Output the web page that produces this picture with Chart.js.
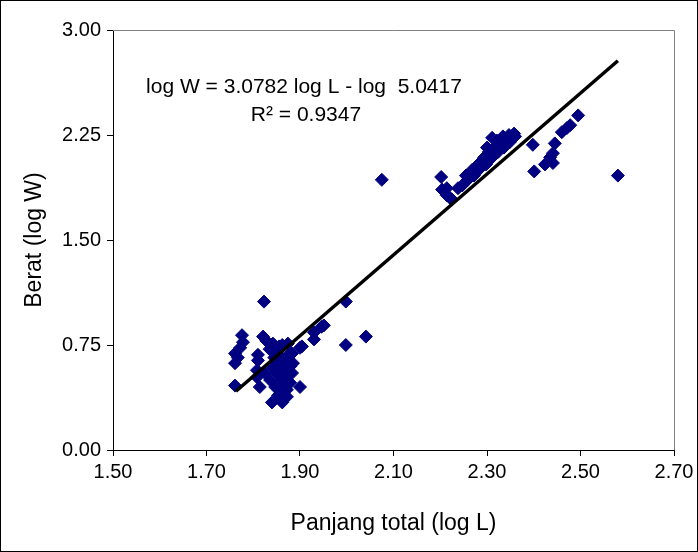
<!DOCTYPE html>
<html>
<head>
<meta charset="utf-8">
<script src="https://cdn.jsdelivr.net/npm/chart.js@4.4.1/dist/chart.umd.min.js"></script>
<style>
  html, body { margin: 0; padding: 0; background: #fff; }
</style>
</head>
<body>
<canvas id="grafik" width="698" height="552"></canvas>
<script>
// Panjang total (log L) dan berat (log W) tiap ikan
const panjangLog = [
  1.823, 1.998, 1.776, 1.778, 1.772, 1.761, 1.767, 1.761, 1.761, 1.821,
  1.828, 1.842, 1.862, 1.874, 1.883, 1.900, 1.885, 1.883, 1.879, 1.872,
  1.862, 1.847, 1.836, 1.825, 1.842, 1.810, 1.808, 1.808, 1.814, 1.900,
  1.840, 1.862, 1.853, 1.872, 1.850, 1.860, 1.870, 1.855, 1.865, 1.850,
  1.860, 1.870, 1.875, 1.845, 1.835, 1.855, 1.810, 1.904, 1.930, 1.930,
  1.951, 1.946, 1.998, 2.041, 1.868, 1.880, 1.858,
  2.075, 2.202, 2.204, 2.214, 2.221, 2.225, 2.214, 2.238, 2.247, 2.259,
  2.272, 2.285, 2.298, 2.311, 2.324, 2.336, 2.349, 2.360, 2.255, 2.268,
  2.281, 2.294, 2.304, 2.311, 2.321, 2.334, 2.347, 2.358, 2.300, 2.317,
  2.328, 2.264, 2.276, 2.290, 2.307,
  2.398, 2.401, 2.424, 2.435, 2.441, 2.441, 2.445, 2.460, 2.471, 2.478,
  2.495, 2.580,
];
const beratLog = [
  1.06, 1.06, 0.82, 0.77, 0.73, 0.69, 0.66, 0.62, 0.46, 0.81,
  0.78, 0.76, 0.75, 0.76, 0.69, 0.73, 0.62, 0.55, 0.48, 0.43,
  0.43, 0.45, 0.50, 0.55, 0.59, 0.68, 0.57, 0.52, 0.45, 0.45,
  0.34, 0.34, 0.39, 0.38, 0.70, 0.66, 0.62, 0.62, 0.57, 0.55,
  0.50, 0.52, 0.68, 0.66, 0.72, 0.74, 0.64, 0.74, 0.84, 0.79,
  0.89, 0.88, 0.75, 0.81, 0.46, 0.60, 0.54,
  1.93, 1.95, 1.86, 1.87, 1.80, 1.79, 1.82, 1.87, 1.89, 1.93,
  1.96, 2.01, 2.04, 2.09, 2.13, 2.16, 2.20, 2.24, 1.96, 2.00,
  2.04, 2.09, 2.13, 2.23, 2.21, 2.24, 2.25, 2.26, 2.16, 2.16,
  2.19, 1.95, 1.99, 2.06, 2.11,
  2.18, 1.99, 2.04, 2.09, 2.05, 2.12, 2.19, 2.27, 2.30, 2.32,
  2.39, 1.96,
];

// ujung garis regresi seperti tergambar
const garisX = [1.763, 2.58];
const garisY = [0.42, 2.78];

const persamaan = "log W = 3.0782 log L - log  5.0417";
const koefisien = "R² = 0.9347";

const titikIkan = panjangLog.map((x, i) => ({ x: x, y: beratLog[i] }));
const titikGaris = garisX.map((x, i) => ({ x: x, y: garisY[i] }));

const plugin_bingkai = {
  id: "bingkai",
  beforeDatasetsDraw: (chart) => {
    const ctx = chart.ctx;
    const a = chart.chartArea;
    ctx.save();
    ctx.strokeStyle = "#808080";
    ctx.lineWidth = 1;
    ctx.beginPath();
    ctx.moveTo(a.left, Math.round(a.top) + 0.5);
    ctx.lineTo(Math.round(a.right) + 0.5, Math.round(a.top) + 0.5);
    ctx.lineTo(Math.round(a.right) + 0.5, a.bottom);
    ctx.stroke();
    ctx.restore();
  },
  afterDraw: (chart) => {
    const ctx = chart.ctx;
    ctx.save();
    // bingkai luar
    ctx.strokeStyle = "#000";
    ctx.lineWidth = 1;
    ctx.strokeRect(0.5, 0.5, chart.width - 1, chart.height - 1);
    // teks persamaan regresi
    ctx.fillStyle = "#000";
    ctx.font = '21px "Liberation Sans", Arial, sans-serif';
    ctx.textAlign = "center";
    ctx.textBaseline = "middle";
    ctx.fillText(persamaan, 304, 87);
    ctx.fillText(koefisien, 306, 115);
    ctx.restore();
  },
};

const fontTick = { family: '"Liberation Sans", Arial, sans-serif', size: 20 };
const fontJudul = { family: '"Liberation Sans", Arial, sans-serif', size: 23 };

const ctx = document.getElementById("grafik").getContext("2d");
const grafik = new Chart(ctx, {
  type: "scatter",
  data: {
    datasets: [
      {
        label: "Garis regresi",
        type: "line",
        data: titikGaris,
        showLine: true,
        borderColor: "#000",
        borderWidth: 3.5,
        pointRadius: 0,
        fill: false,
        order: 0,
      },
      {
        label: "Ikan",
        data: titikIkan,
        pointStyle: "rectRot",
        pointRadius: 6.5,
        pointHoverRadius: 6.5,
        backgroundColor: "#000080",
        borderColor: "#000080",
        borderWidth: 1,
        order: 1,
      },
    ],
  },
  options: {
    responsive: false,
    animation: false,
    events: [],
    layout: { padding: { left: 0, top: 30, right: 24, bottom: 0 } },
    plugins: {
      legend: { display: false },
      tooltip: { enabled: false },
    },
    scales: {
      x: {
        type: "linear",
        min: 1.5,
        max: 2.7,
        ticks: {
          stepSize: 0.2,
          color: "#000",
          font: fontTick,
          padding: 4,
          maxRotation: 0,
          callback: (v) => v.toFixed(2),
        },
        grid: { drawOnChartArea: false, drawTicks: true, tickLength: 6, color: "#000" },
        border: { display: true, color: "#000", width: 1 },
        title: {
          display: true,
          text: "Panjang total (log L)",
          color: "#000",
          font: fontJudul,
          padding: { top: 0, bottom: 15 },
        },
        afterFit: (scale) => { scale.height = 102; },
      },
      y: {
        type: "linear",
        min: 0,
        max: 3,
        ticks: {
          stepSize: 0.75,
          color: "#000",
          font: fontTick,
          padding: 6,
          callback: (v) => v.toFixed(2),
        },
        grid: { drawOnChartArea: false, drawTicks: true, tickLength: 6, color: "#000" },
        border: { display: true, color: "#000", width: 1 },
        title: {
          display: true,
          text: "Berat (log W)",
          color: "#000",
          font: fontJudul,
          padding: { top: 21, bottom: 0 },
        },
        afterFit: (scale) => { scale.width = 113; },
      },
    },
  },
  plugins: [plugin_bingkai],
});
</script>
</body>
</html>
